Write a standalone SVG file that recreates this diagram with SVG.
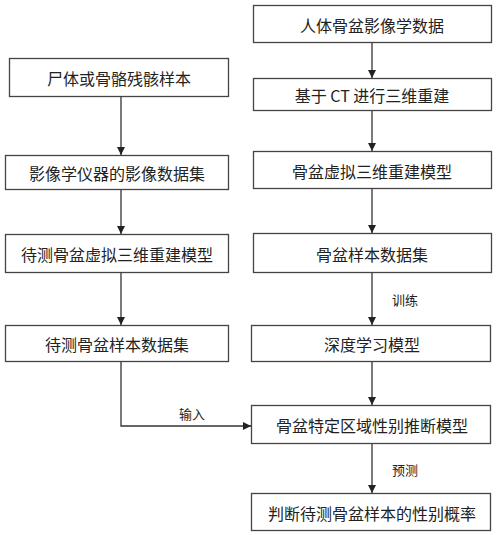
<svg xmlns="http://www.w3.org/2000/svg" width="500" height="535" viewBox="0 0 500 535">
<defs>
<marker id="ah" viewBox="0 0 8 8" refX="8" refY="4" markerWidth="8" markerHeight="8" markerUnits="userSpaceOnUse" orient="auto">
<path d="M0,0 L8,4 L0,8 Z" fill="#222"/>
</marker>
<style>
rect{fill:#fff;stroke:#444;stroke-width:1.3}
text{font-family:"Noto Sans CJK SC","Liberation Sans",sans-serif;fill:#222;text-anchor:middle;dominant-baseline:central}
.n text{font-size:16px}
.l{font-size:13px}
.c path{fill:none;stroke:#333;stroke-width:1.3;marker-end:url(#ah)}
</style>
</defs>
<rect x="0" y="0" width="500" height="535" style="fill:#fff;stroke:none"/>
<g class="n">
<g id="L1"><rect x="9.5" y="58.5" width="219" height="38"/><text x="119" y="78">尸体或骨骼残骸样本</text></g>
<g id="L2"><rect x="5.5" y="155.5" width="223" height="34"/><text x="117" y="173">影像学仪器的影像数据集</text></g>
<g id="L3"><rect x="5.5" y="234.5" width="223" height="38"/><text x="117" y="254">待测骨盆虚拟三维重建模型</text></g>
<g id="L4"><rect x="5.5" y="325.5" width="223" height="36"/><text x="117" y="344">待测骨盆样本数据集</text></g>
<g id="R1"><rect x="253.5" y="5.5" width="238" height="37"/><text x="372" y="25">人体骨盆影像学数据</text></g>
<g id="R2"><rect x="253.5" y="78.5" width="238" height="32"/><text x="372" y="95">基于 CT 进行三维重建</text></g>
<g id="R3"><rect x="253.5" y="151.5" width="238" height="37"/><text x="372" y="171">骨盆虚拟三维重建模型</text></g>
<g id="R4"><rect x="253.5" y="233.5" width="238" height="39"/><text x="372" y="254">骨盆样本数据集</text></g>
<g id="R5"><rect x="251.5" y="325.5" width="239" height="36"/><text x="372" y="344">深度学习模型</text></g>
<g id="R6"><rect x="251.5" y="405.5" width="239" height="38"/><text x="372" y="425">骨盆特定区域性别推断模型</text></g>
<g id="R7"><rect x="251.5" y="493.5" width="239" height="37"/><text x="372" y="513">判断待测骨盆样本的性别概率</text></g>
</g>
<g class="c">
<path d="M121,97 V155"/>
<path d="M121,190 V234"/>
<path d="M121,273 V325"/>
<path d="M121,362 V426 H251"/>
<path d="M372,43 V78"/>
<path d="M372,111 V151"/>
<path d="M372,189 V233"/>
<path d="M372,273 V325"/>
<path d="M372,362 V405"/>
<path d="M372,444 V493"/>
</g>
<g id="labels">
<text class="l" x="192" y="413">输入</text>
<text class="l" x="405" y="299">训练</text>
<text class="l" x="405" y="469">预测</text>
</g>
</svg>
